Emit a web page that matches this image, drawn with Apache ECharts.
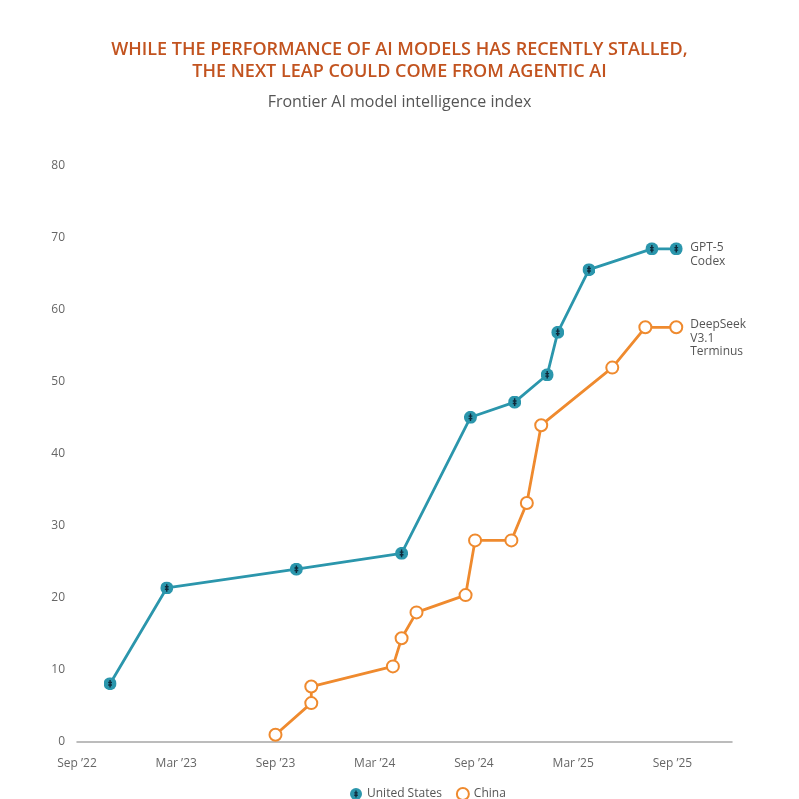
<!DOCTYPE html>
<html>
<head>
<meta charset="utf-8">
<script src="https://cdn.jsdelivr.net/npm/echarts@6/dist/echarts.min.js"></script>
<style>
html,body{margin:0;padding:0;background:#fff;}
#chart{width:799px;height:799px;}
</style>
</head>
<body>
<div id="chart"></div>
<script>
// ---- Data ----
var usDates = ['2022-11-01','2023-02-14','2023-10-09','2024-04-20','2024-08-25','2024-11-15','2025-01-14','2025-02-03','2025-03-30','2025-07-24','2025-09-08'];
var usValues = [8.1, 21.4, 24.0, 26.2, 45.1, 47.2, 51.0, 56.9, 65.6, 68.5, 68.5];
var cnDates = ['2023-09-01','2023-11-06','2023-11-06','2024-04-04','2024-04-20','2024-05-17','2024-08-16','2024-09-03','2024-11-09','2024-12-07','2025-01-03','2025-05-12','2025-07-12','2025-09-08'];
var cnValues = [1.0, 5.4, 7.7, 10.5, 14.4, 18.0, 20.4, 28.0, 28.0, 33.2, 44.0, 52.0, 57.6, 57.6];
var tickLabels = ["Sep \u201922", "Mar \u201923", "Sep \u201923", "Mar \u201924", "Sep \u201924", "Mar \u201925", "Sep \u201925"];
var usEndLabel = 'GPT-5\nCodex';
var cnEndLabel = 'DeepSeek\nV3.1\nTerminus';

// months elapsed since 1 Sep 2022
function monthsSince(d) {
  var p = d.split('-').map(Number);
  return (p[0] - 2022) * 12 + (p[1] - 9) + (p[2] - 1) / 30.44;
}
function pairs(dates, vals) {
  return dates.map(function (d, i) { return [monthsSince(d), vals[i]]; });
}

var TEAL = '#2b96ac', ORANGE = '#ef8a2e';
var usSvg = '<svg xmlns="http://www.w3.org/2000/svg" width="24" height="24" viewBox="0 0 24 24">' +
  '<circle cx="12" cy="12" r="12" fill="' + TEAL + '"/>' +
  '<path d="M12 5V19M8.5 9.8H15.5M8.5 14.5H15.5" stroke="#10293a" stroke-width="2.6" fill="none"/></svg>';
var usSymbol = 'image://data:image/svg+xml;charset=utf-8,' + encodeURIComponent(usSvg);

var chart = echarts.init(document.getElementById('chart'));
chart.setOption({
  backgroundColor: '#ffffff',
  animation: false,
  textStyle: { fontFamily: 'Open Sans' },
  title: [{
    text: 'WHILE THE PERFORMANCE OF AI MODELS HAS RECENTLY STALLED,\nTHE NEXT LEAP COULD COME FROM AGENTIC AI',
    left: 'center', top: 34,
    textStyle: { color: '#c2531f', fontSize: 18, fontWeight: 600, lineHeight: 22, fontFamily: 'Open Sans' }
  }, {
    text: 'Frontier AI model intelligence index',
    left: 'center', top: 89,
    textStyle: { color: '#555555', fontSize: 16, fontWeight: 'normal', fontFamily: 'Open Sans' }
  }],
  legend: {
    top: 782, left: 345,
    itemWidth: 12, itemHeight: 12, itemGap: 14,
    textStyle: { color: '#555', fontSize: 12 },
    data: [
      { name: 'United States', icon: usSymbol },
      { name: 'China', icon: 'circle', itemStyle: { color: '#fff', borderColor: ORANGE, borderWidth: 2 } }
    ]
  },
  grid: { left: 77, right: 67, top: 166, bottom: 57 },
  xAxis: {
    type: 'value', min: 0, max: 39.6, interval: 6,
    axisLine: { show: true, lineStyle: { color: '#a6a6a6', width: 1.5 } },
    axisTick: { show: false },
    splitLine: { show: false },
    axisLabel: {
      color: '#666', fontSize: 12, margin: 16, showMaxLabel: false,
      formatter: function (v) {
        var i = Math.round(v / 6);
        return (Math.abs(v - i * 6) < 1e-6 && tickLabels[i]) ? tickLabels[i] : '';
      }
    }
  },
  yAxis: {
    type: 'value', min: 0, max: 80, interval: 10,
    axisLine: { show: false }, axisTick: { show: false },
    splitLine: { show: false },
    axisLabel: { color: '#666', fontSize: 12, margin: 12 }
  },
  series: [{
    name: 'United States',
    type: 'line',
    data: pairs(usDates, usValues),
    symbol: usSymbol, symbolSize: 13,
    lineStyle: { color: TEAL, width: 2.8 },
    itemStyle: { color: TEAL },
    z: 3,
    endLabel: {
      show: true, formatter: usEndLabel, distance: 14,
      color: '#555', fontSize: 12, lineHeight: 13.5, offset: [0, 6], align: 'left'
    }
  }, {
    name: 'China',
    type: 'line',
    data: pairs(cnDates, cnValues),
    symbol: 'circle', symbolSize: 12, showAllSymbol: true,
    lineStyle: { color: ORANGE, width: 2.8 },
    itemStyle: { color: '#ffffff', borderColor: ORANGE, borderWidth: 2 },
    z: 2,
    endLabel: {
      show: true, formatter: cnEndLabel, distance: 14,
      color: '#555', fontSize: 12, lineHeight: 13.5, offset: [0, 11], align: 'left'
    }
  }]
});
</script>
</body>
</html>
